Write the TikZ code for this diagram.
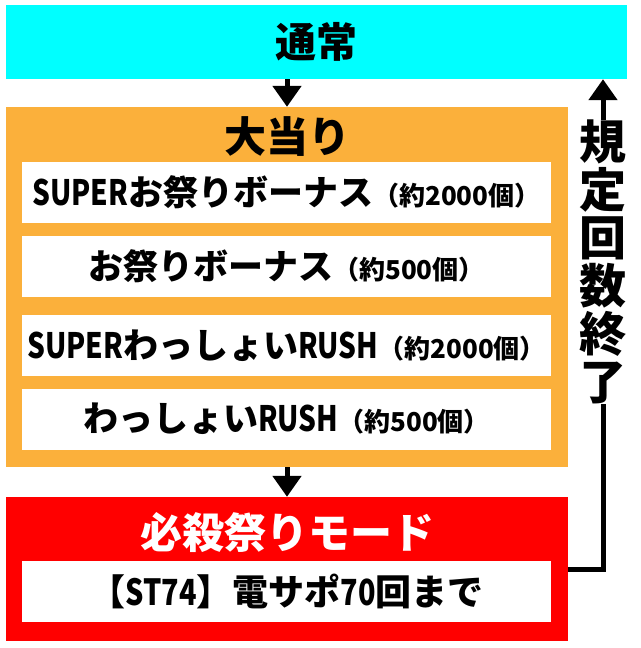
\documentclass[tikz,border=0pt]{standalone}
\usepackage{fontspec}
\setmainfont{Noto Sans CJK JP}
\newfontfamily\narrowlatin{Noto Sans CJK JP}[FakeStretch=0.8]
\usetikzlibrary{arrows.meta}
\definecolor{tsujoCyan}{HTML}{00FFFF}
\definecolor{atariOrange}{HTML}{FBB03B}
\definecolor{matsuriRed}{HTML}{FF0000}
\newcommand{\fsz}[1]{\fontsize{#1}{#1}\selectfont}
\newcommand{\nl}[1]{{\narrowlatin\bfseries #1}}
\newcommand{\kosu}[1]{{\fsz{26}（約#1個）}}

\begin{document}
\begin{tikzpicture}[x=1pt, y=-1pt,
    panel/.style={inner sep=0pt, minimum width=562pt},
    title/.style={inner sep=0pt, font=\bfseries\fsz{42}},
    item/.style={fill=white, inner sep=0pt, minimum width=529pt, minimum height=61pt, font=\bfseries\fsz{35}},
    flow/.style={line width=5pt, -{Triangle[width=28pt,length=21pt]}}]
    \useasboundingbox (0,0) rectangle (640,648);

    % boxes
    \node[fill=tsujoCyan, inner sep=0pt, minimum width=621pt, minimum height=74pt] (tsujo) at (316.5,42) {};
    \node[panel, fill=atariOrange, minimum height=360pt] (atari) at (287,287) {};
    \node[panel, fill=matsuriRed, minimum height=144pt] (matsuri) at (287,569) {};

    % texts
    \node[title, font=\bfseries\fsz{41}] (tsujoT) at (tsujo) {通常};
    \node[title] (atariT) at (287,137) {大当り};
    \node[item] (bonusSP) at (286.5,192.5) {\nl{SUPER}お祭りボーナス\kosu{2000}};
    \node[item] (bonus) at (286.5,266.5) {お祭りボーナス\kosu{500}};
    \node[item] (rushSP) at (286.5,345.5) {\nl{SUPER}わっしょい\nl{RUSH}\kosu{2000}};
    \node[item] (rush) at (286.5,419) {わっしょい\nl{RUSH}\kosu{500}};
    \node[title, text=white] (matsuriT) at (287,533) {必殺祭りモード};
    \node[item, font=\bfseries\fsz{36}] (st) at (286.5,591.5) {【\nl{ST74}】電サポ\nl{70}回まで};
    \node[inner sep=0pt, align=center, font=\bfseries\fontsize{47}{48}\selectfont] (kitei) at (603,262) {規\\定\\回\\数\\終\\了};

    % arrows
    \draw[flow] (atari.north |- tsujo.south) -- (atari.north);
    \draw[flow] (atari.south) -- (matsuri.north);
    \draw[line width=5pt] (matsuri.east) -| (kitei.south);
    \draw[flow] (kitei.north) -- (kitei.north |- tsujo.south);
\end{tikzpicture}
\end{document}
